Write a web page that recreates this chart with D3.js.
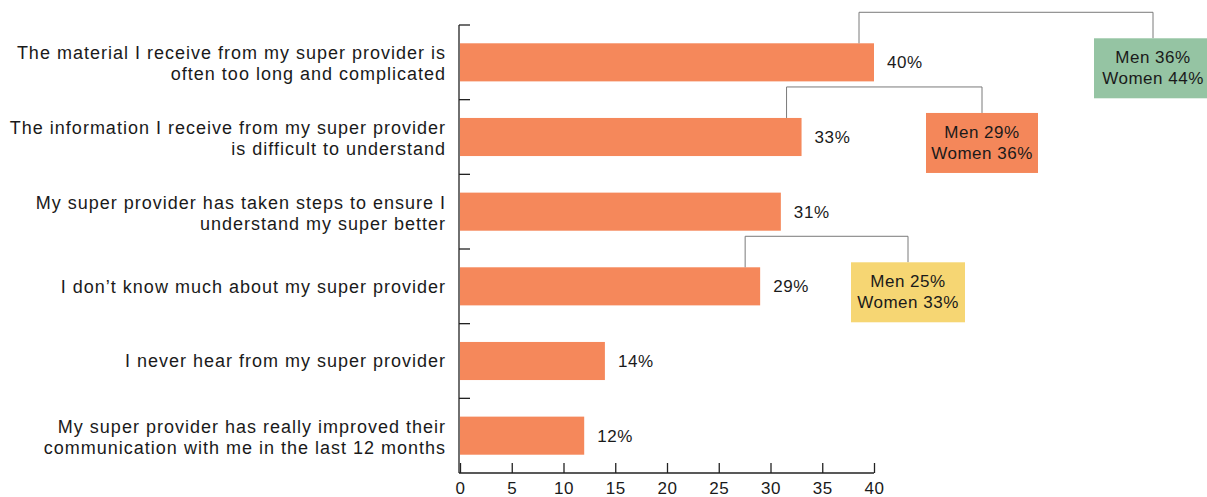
<!DOCTYPE html>
<html>
<head>
<meta charset="utf-8">
<script src="https://cdn.jsdelivr.net/npm/d3@7"></script>
<style>
  body { margin: 0; background: #fff; }
  text { font-family: "Liberation Sans", Arial, sans-serif; fill: #1a1a1a; }
</style>
</head>
<body>
<div id="chart"></div>
<script>
// data
const statements = [
  ["The material I receive from my super provider is", "often too long and complicated"],
  ["The information I receive from my super provider", "is difficult to understand"],
  ["My super provider has taken steps to ensure I", "understand my super better"],
  ["I don\u2019t know much about my super provider"],
  ["I never hear from my super provider"],
  ["My super provider has really improved their", "communication with me in the last 12 months"]
];
const values = [40, 33, 31, 29, 14, 12];
const xTicks = [0, 5, 10, 15, 20, 25, 30, 35, 40];

// gender breakdown (index of statement, men %, women %)
const splitIndex = [0, 1, 3];
const menValues = [36, 29, 25];
const womenValues = [44, 36, 33];
const splitColors = ["#95c4a3", "#f4875a", "#f6d673"];

const width = 1207, height = 497;
const svg = d3.select("#chart").append("svg")
    .attr("width", width)
    .attr("height", height);

const x = d3.scaleLinear().domain([0, 40]).range([460, 874]);
const y = d3.scaleBand()
    .domain(d3.range(statements.length))
    .range([25, 473])
    .paddingInner(0.49)
    .paddingOuter(0.245);

const barColor = "#f5885b";

// bars
svg.append("g")
  .selectAll("rect")
  .data(values)
  .join("rect")
    .attr("x", x(0))
    .attr("y", (d, i) => y(i))
    .attr("width", d => x(d) - x(0))
    .attr("height", y.bandwidth())
    .attr("fill", barColor);

// value labels
svg.append("g")
  .selectAll("text")
  .data(values)
  .join("text")
    .attr("x", d => x(d) + 13)
    .attr("y", (d, i) => y(i) + y.bandwidth() / 2)
    .attr("dy", "0.36em")
    .style("font-size", "17px")
    .style("letter-spacing", "0.6px")
    .text(d => d + "%");

// category labels
const labels = svg.append("g")
  .selectAll("text")
  .data(statements)
  .join("text")
    .attr("text-anchor", "end")
    .style("font-size", "18px")
    .style("letter-spacing", "1px")
    .attr("y", (d, i) => y(i) + y.bandwidth() / 2);
labels.selectAll("tspan")
  .data(d => d.map((line, k) => ({line, k, n: d.length})))
  .join("tspan")
    .attr("x", 446)
    .attr("dy", d => d.k === 0 ? (d.n === 1 ? "0.36em" : "-0.17em") : "1.17em")
    .text(d => d.line);

// left axis: line with small ticks between the bars
const step = y.step();
const leftTicks = d3.range(statements.length).map(i => y(i) - (step - y.bandwidth()) / 2);
const axisG = svg.append("g").attr("stroke", "#222").attr("stroke-width", 1.3);
axisG.append("line")
    .attr("x1", x(0) - 1).attr("x2", x(0) - 1)
    .attr("y1", leftTicks[0]).attr("y2", 473);
axisG.selectAll(".lt")
  .data(leftTicks)
  .join("line")
    .attr("class", "lt")
    .attr("x1", x(0) - 1).attr("x2", x(0) + 10)
    .attr("y1", d => d).attr("y2", d => d);

// bottom axis
const xAxis = svg.append("g")
    .attr("transform", "translate(0,473)")
    .call(d3.axisBottom(x).tickValues(xTicks).tickSize(-10).tickSizeOuter(0).tickPadding(9));
xAxis.select(".domain").attr("stroke", "#222").attr("stroke-width", 1.3)
    .attr("d", "M" + (x(0) - 1) + ",0H" + x(40));
xAxis.selectAll(".tick line").attr("stroke", "#222").attr("stroke-width", 1.3);
xAxis.selectAll(".tick text")
    .style("font-size", "17px")
    .style("letter-spacing", "0.6px")
    .attr("fill", "#1a1a1a");

// gender callouts
const boxCx = [1153, 982, 908];
const boxW = [118, 112, 114];
const boxH = 60;
splitIndex.forEach((idx, j) => {
  const barTop = y(idx);
  const xl = x(values[idx]) - 15;
  const yTop = barTop - 31;
  const boxTop = barTop - 5;
  svg.append("path")
      .attr("d", `M${xl},${barTop}V${yTop}H${boxCx[j]}V${boxTop}`)
      .attr("fill", "none")
      .attr("stroke", "#7a7a7a")
      .attr("stroke-width", 1);
  svg.append("rect")
      .attr("x", boxCx[j] - boxW[j] / 2)
      .attr("y", boxTop)
      .attr("width", boxW[j])
      .attr("height", boxH)
      .attr("fill", splitColors[j]);
  const t = svg.append("text")
      .attr("text-anchor", "middle")
      .style("font-size", "17px")
      .style("letter-spacing", "0.5px")
      .attr("y", boxTop + boxH / 2);
  t.append("tspan").attr("x", boxCx[j]).attr("dy", "-0.3em").text("Men " + menValues[j] + "%");
  t.append("tspan").attr("x", boxCx[j]).attr("dy", "1.25em").text("Women " + womenValues[j] + "%");
});
</script>
</body>
</html>
